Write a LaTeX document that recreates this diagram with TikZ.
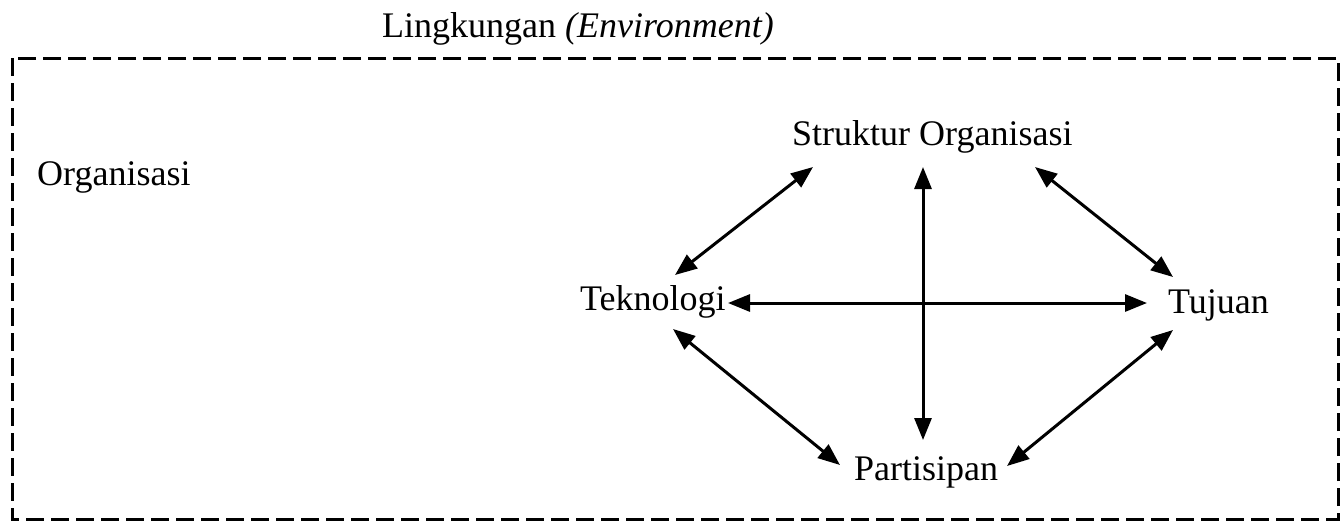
\documentclass[tikz,border=0pt]{standalone}
\usepackage{fontspec}
\setmainfont{Liberation Serif}
\usetikzlibrary{arrows.meta}
\tikzset{
  lbl/.style={anchor=base west, inner sep=0pt, font=\fontsize{36}{40}\selectfont},
  arr/.style={line width=3pt, {Triangle[length=22pt,width=17pt]}-{Triangle[length=22pt,width=17pt]}},
  envbox/.style={draw, line width=3pt, dash pattern=on 18pt off 7pt}
}
\begin{document}
\begin{tikzpicture}[x=1pt,y=-1pt]
\useasboundingbox (0,0) rectangle (1343,523);
\draw[envbox] (12,58) rectangle (1338,519);
\node[lbl] (env) at (382,37) {Lingkungan {\itshape (Environment)}};
\node[lbl] (org) at (37,185) {Organisasi};
\node[lbl] (so) at (792,145) {Struktur Organisasi};
\node[lbl] (tek) at (580,310) {Teknologi};
\node[lbl] (tuj) at (1168,313) {Tujuan};
\node[lbl] (par) at (854,480) {Partisipan};
\draw[arr] ([shift={(21,22)}]so.base west) -- ([shift={(95,-35)}]tek.base west);
\draw[arr] ([shift={(131,22)}]so.base west) -- ([shift={(69,-40)}]par.base west);
\draw[arr] ([shift={(243,22)}]so.base west) -- ([shift={(5,-36)}]tuj.base west);
\draw[arr] ([shift={(148,-7)}]tek.base west) -- ([shift={(-21,-10)}]tuj.base west);
\draw[arr] ([shift={(5,17)}]tuj.base west) -- ([shift={(153,-14)}]par.base west);
\draw[arr] ([shift={(93,19)}]tek.base west) -- ([shift={(-14,-15)}]par.base west);
\end{tikzpicture}
\end{document}
